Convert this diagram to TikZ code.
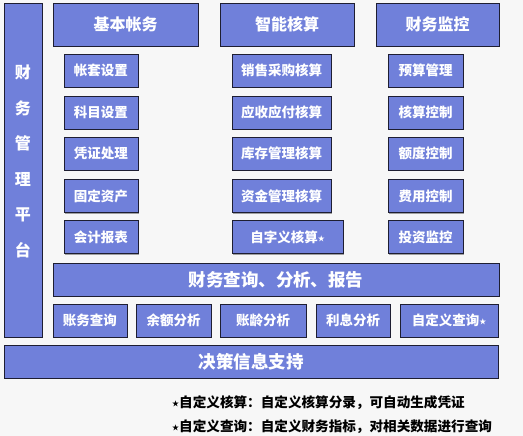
\documentclass[tikz,border=0pt]{standalone}
\usepackage{fontspec}
\newfontfamily\cjk{Noto Sans CJK SC}
\usetikzlibrary{shadows}
\definecolor{boxfill}{RGB}{112,128,218}
\definecolor{boxline}{RGB}{30,30,50}
\definecolor{bgc}{RGB}{247,247,247}
\newcommand{\smstar}{{\fontsize{7}{7}\selectfont\raisebox{0.25ex}{★}}}
\tikzset{
  box/.style={draw=boxline, line width=0.9pt, fill=boxfill, text=white,
    inner sep=0pt, outer sep=0pt,
    drop shadow={shadow xshift=1.2pt, shadow yshift=-1.2pt, opacity=0.35, fill=black}},
  hdr/.style={box, font=\cjk\bfseries\fontsize{16}{16}\selectfont},
  sub/.style={box, minimum height=33pt, font=\cjk\bfseries\fontsize{13.5}{13.5}\selectfont},
  bar/.style={box, minimum height=33pt, font=\cjk\bfseries\fontsize{17.5}{17.5}\selectfont},
  note/.style={anchor=west, inner sep=0pt, text=black, font=\cjk\bfseries\fontsize{13.6}{13.6}\selectfont}
}
\begin{document}
\begin{tikzpicture}[x=1pt,y=-1pt]
\fill[bgc] (0,0) rectangle (523,436);
\useasboundingbox (0,0) rectangle (523,436);
% left platform
\node[box, minimum width=38pt, minimum height=334pt] (plat) at (23,170) {};
\node[text=white, align=center, inner sep=0pt, font=\cjk\bfseries\fontsize{16}{35.6}\selectfont] (platt) at (23,161.5) {财\\务\\管\\理\\平\\台};
% headers
\node[hdr, minimum width=145pt, minimum height=43pt] (h1) at (125.5,24.5) {基本帐务};
\node[hdr, minimum width=134pt, minimum height=43pt] (h2) at (287,24.5) {智能核算};
\node[hdr, minimum width=123pt, minimum height=43pt] (h3) at (437.5,24.5) {财务监控};
% column 1
\node[sub, minimum width=74pt] (a1) at (101,70.5) {帐套设置};
\node[sub, minimum width=74pt] (a2) at (101,112.5) {科目设置};
\node[sub, minimum width=74pt] (a3) at (101,153.5) {凭证处理};
\node[sub, minimum width=74pt] (a4) at (101,196) {固定资产};
\node[sub, minimum width=74pt] (a5) at (101,237) {会计报表};
% column 2
\node[sub, minimum width=99pt] (b1) at (281.5,70.5) {销售采购核算};
\node[sub, minimum width=99pt] (b2) at (281.5,112.5) {应收应付核算};
\node[sub, minimum width=99pt] (b3) at (281.5,153.5) {库存管理核算};
\node[sub, minimum width=99pt] (b4) at (281.5,196) {资金管理核算};
\node[sub, minimum width=111pt] (b5) at (287.5,237) {自字义核算\smstar};
% column 3
\node[sub, minimum width=75pt] (c1) at (425.5,70.5) {预算管理};
\node[sub, minimum width=75pt] (c2) at (425.5,112.5) {核算控制};
\node[sub, minimum width=75pt] (c3) at (425.5,153.5) {额度控制};
\node[sub, minimum width=75pt] (c4) at (425.5,196) {费用控制};
\node[sub, minimum width=75pt] (c5) at (425.5,237) {投资监控};
% query bar
\node[bar, minimum width=446pt] (q) at (276,279.5) {财务查询、分析、报告};
% bottom row
\node[sub, minimum width=74pt] (d1) at (90,320.5) {账务查询};
\node[sub, minimum width=75pt] (d2) at (173.5,320.5) {余额分析};
\node[sub, minimum width=86pt] (d3) at (263,320.5) {账龄分析};
\node[sub, minimum width=74pt] (d4) at (353,320.5) {利息分析};
\node[sub, minimum width=98pt] (d5) at (449,320.5) {自定义查询\smstar};
% decision bar
\node[bar, minimum width=494pt] (dec) at (251,361.5) {决策信息支持};
% notes
\node[note] (n1) at (172,403) {\smstar 自定义核算：自定义核算分录，可自动生成凭证};
\node[note] (n2) at (172,427) {\smstar 自定义查询：自定义财务指标，对相关数据进行查询};
\end{tikzpicture}
\end{document}
